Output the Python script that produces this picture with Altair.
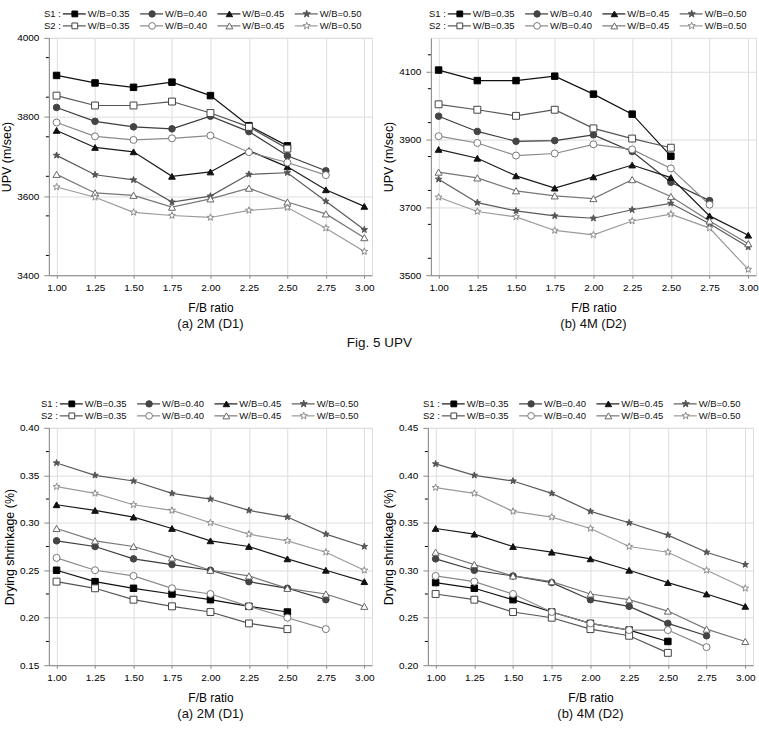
import altair as alt
import pandas as pd

# F/B ratio levels on the x axis
FB = [1.00, 1.25, 1.50, 1.75, 2.00, 2.25, 2.50, 2.75, 3.00]

SERIES = ["S1_035", "S1_040", "S1_045", "S1_050", "S2_035", "S2_040", "S2_045", "S2_050"]
WB_LABELS = ["W/B=0.35", "W/B=0.40", "W/B=0.45", "W/B=0.50"]

# ---- UPV (m/sec), 2M (D1) ----
upv_d1_s1_035 = [3905, 3886, 3875, 3888, 3854, 3778, 3727]
upv_d1_s1_040 = [3824, 3789, 3775, 3770, 3802, 3763, 3702, 3664]
upv_d1_s1_045 = [3766, 3723, 3712, 3650, 3661, 3715, 3674, 3616, 3574]
upv_d1_s1_050 = [3703, 3654, 3641, 3585, 3600, 3655, 3659, 3587, 3515]
upv_d1_s2_035 = [3854, 3829, 3829, 3839, 3810, 3775, 3720]
upv_d1_s2_040 = [3786, 3751, 3742, 3746, 3753, 3711, 3685, 3653]
upv_d1_s2_045 = [3655, 3608, 3602, 3572, 3593, 3620, 3585, 3555, 3495]
upv_d1_s2_050 = [3623, 3597, 3559, 3551, 3546, 3564, 3571, 3519, 3460]

# ---- UPV (m/sec), 4M (D2) ----
upv_d2_s1_035 = [4105, 4074, 4074, 4087, 4034, 3975, 3851]
upv_d2_s1_040 = [3969, 3924, 3895, 3897, 3914, 3865, 3774, 3720]
upv_d2_s1_045 = [3871, 3845, 3793, 3757, 3790, 3825, 3788, 3675, 3618]
upv_d2_s1_050 = [3783, 3714, 3690, 3675, 3668, 3693, 3712, 3652, 3583]
upv_d2_s2_035 = [4004, 3988, 3970, 3988, 3933, 3903, 3876]
upv_d2_s2_040 = [3910, 3890, 3853, 3859, 3886, 3871, 3815, 3708]
upv_d2_s2_045 = [3804, 3787, 3749, 3734, 3726, 3782, 3732, 3660, 3593]
upv_d2_s2_050 = [3730, 3688, 3672, 3632, 3619, 3660, 3680, 3639, 3517]

# ---- Drying shrinkage (%), 2M (D1) ----
shr_d1_s1_035 = [0.250, 0.238, 0.231, 0.225, 0.219, 0.212, 0.206]
shr_d1_s1_040 = [0.281, 0.275, 0.262, 0.256, 0.250, 0.238, 0.231, 0.219]
shr_d1_s1_045 = [0.319, 0.313, 0.306, 0.294, 0.281, 0.275, 0.262, 0.250, 0.238]
shr_d1_s1_050 = [0.363, 0.350, 0.344, 0.331, 0.325, 0.313, 0.306, 0.288, 0.275]
shr_d1_s2_035 = [0.238, 0.231, 0.219, 0.212, 0.206, 0.194, 0.188]
shr_d1_s2_040 = [0.263, 0.250, 0.244, 0.231, 0.225, 0.212, 0.200, 0.188]
shr_d1_s2_045 = [0.294, 0.281, 0.275, 0.263, 0.250, 0.244, 0.231, 0.225, 0.212]
shr_d1_s2_050 = [0.338, 0.331, 0.319, 0.313, 0.300, 0.288, 0.281, 0.269, 0.250]

# ---- Drying shrinkage (%), 4M (D2) ----
shr_d2_s1_035 = [0.287, 0.281, 0.269, 0.256, 0.244, 0.237, 0.225]
shr_d2_s1_040 = [0.312, 0.300, 0.294, 0.287, 0.269, 0.262, 0.244, 0.231]
shr_d2_s1_045 = [0.344, 0.338, 0.325, 0.319, 0.312, 0.300, 0.287, 0.275, 0.262]
shr_d2_s1_050 = [0.412, 0.400, 0.394, 0.381, 0.362, 0.350, 0.337, 0.319, 0.306]
shr_d2_s2_035 = [0.275, 0.269, 0.256, 0.250, 0.238, 0.231, 0.213]
shr_d2_s2_040 = [0.294, 0.288, 0.275, 0.256, 0.244, 0.237, 0.237, 0.219]
shr_d2_s2_045 = [0.319, 0.306, 0.294, 0.288, 0.275, 0.269, 0.257, 0.238, 0.225]
shr_d2_s2_050 = [0.387, 0.381, 0.362, 0.356, 0.344, 0.325, 0.319, 0.300, 0.281]

# ---- series styling ----
STAR = ("M0,-1L0.235,-0.324L0.951,-0.309L0.380,0.124L0.588,0.809L0,0.4"
        "L-0.588,0.809L-0.380,0.124L-0.951,-0.309L-0.235,-0.324Z")
LINE_COLOR = ["#111111", "#3c3c3c", "#1a1a1a", "#5a5a5a", "#555555", "#8a8a8a", "#777777", "#9a9a9a"]
SHAPE = ["square", "circle", "triangle-up", STAR, "square", "circle", "triangle-up", STAR]
FILL = ["#000000", "#444444", "#111111", "#555555", "#ffffff", "#ffffff", "#ffffff", "#ffffff"]
STROKE = ["#000000", "#444444", "#111111", "#555555", "#444444", "#777777", "#666666", "#8c8c8c"]
SIZE = [42, 52, 52, 72, 42, 56, 60, 72]

FONT = "Liberation Sans"


def long_table(*cols):
    rows = []
    for key, vals in zip(SERIES, cols):
        for fb, v in zip(FB, vals):
            rows.append({"fb": fb, "v": v, "s": key})
    return pd.DataFrame(rows)


def legend_layers(lx):
    one = pd.DataFrame({"k": [0]})
    layers = []
    for r, (tag, ly) in enumerate([("S1 :", -24), ("S2 :", -12)]):
        layers.append(
            alt.Chart(one).mark_text(text=tag, align="right", baseline="middle",
                                     font=FONT, fontSize=9.5, color="#111")
            .encode(x=alt.value(lx - 2), y=alt.value(ly))
        )
        for k in range(4):
            i = r * 4 + k
            x0 = lx + 77.5 * k
            layers.append(
                alt.Chart(one).mark_rule(color=LINE_COLOR[i], strokeWidth=1.2)
                .encode(x=alt.value(x0), x2=alt.value(x0 + 23), y=alt.value(ly))
            )
            layers.append(
                alt.Chart(one).mark_point(shape=SHAPE[i], fill=FILL[i], stroke=STROKE[i],
                                          size=SIZE[i] * 0.8, opacity=1, strokeWidth=1)
                .encode(x=alt.value(x0 + 12), y=alt.value(ly))
            )
            layers.append(
                alt.Chart(one).mark_text(text=WB_LABELS[k], align="left", baseline="middle",
                                         font=FONT, fontSize=9.5, color="#111")
                .encode(x=alt.value(x0 + 25), y=alt.value(ly))
            )
    return layers


def panel(df, ytitle, ydom, ystep, fmt, caption, lx, w):
    yticks = []
    v = ydom[0]
    while v <= ydom[1] + 1e-9:
        yticks.append(round(v, 4))
        v += ystep
    yminor = [round(t + ystep / 2, 4) for t in yticks[:-1]]

    x = alt.X("fb:Q", scale=alt.Scale(domain=[0.95, 3.05], nice=False, zero=False),
              axis=alt.Axis(values=FB, format=".2f", title="F/B ratio", tickSize=3,
                            labelPadding=4, titlePadding=10, titleFont=FONT,
                            titleFontSize=12, titleFontWeight="normal",
                            labelOverlap=False))
    y = alt.Y("v:Q", scale=alt.Scale(domain=ydom, nice=False, zero=False),
              axis=alt.Axis(values=yticks, format=fmt, title=ytitle, tickSize=5,
                            labelPadding=5, titlePadding=3, titleFont=FONT,
                            titleFontSize=12.5, titleFontWeight="normal",
                            labelOverlap=False))

    lines = alt.Chart(df).mark_line(strokeWidth=1.2).encode(
        x=x, y=y,
        color=alt.Color("s:N", scale=alt.Scale(domain=SERIES, range=LINE_COLOR), legend=None),
    )
    points = alt.Chart(df).mark_point(opacity=1, strokeWidth=1).encode(
        x="fb:Q", y="v:Q",
        shape=alt.Shape("s:N", scale=alt.Scale(domain=SERIES, range=SHAPE), legend=None),
        fill=alt.Fill("s:N", scale=alt.Scale(domain=SERIES, range=FILL), legend=None),
        stroke=alt.Stroke("s:N", scale=alt.Scale(domain=SERIES, range=STROKE), legend=None),
        size=alt.Size("s:N", scale=alt.Scale(domain=SERIES, range=SIZE), legend=None),
    )
    minor = alt.Chart(pd.DataFrame({"v": yminor})).mark_rule(color="#000", strokeWidth=1).encode(
        y="v:Q", x=alt.value(-3), x2=alt.value(0)
    )
    return alt.layer(lines, points, minor, *legend_layers(lx)).properties(
        width=w, height=238,
        title=alt.TitleParams(caption, orient="bottom", font=FONT, fontSize=13,
                              fontWeight="normal", offset=5, color="#111",
                              anchor="middle"),
    )


df_a = long_table(upv_d1_s1_035, upv_d1_s1_040, upv_d1_s1_045, upv_d1_s1_050,
                  upv_d1_s2_035, upv_d1_s2_040, upv_d1_s2_045, upv_d1_s2_050)
df_b = long_table(upv_d2_s1_035, upv_d2_s1_040, upv_d2_s1_045, upv_d2_s1_050,
                  upv_d2_s2_035, upv_d2_s2_040, upv_d2_s2_045, upv_d2_s2_050)
df_c = long_table(shr_d1_s1_035, shr_d1_s1_040, shr_d1_s1_045, shr_d1_s1_050,
                  shr_d1_s2_035, shr_d1_s2_040, shr_d1_s2_045, shr_d1_s2_050)
df_d = long_table(shr_d2_s1_035, shr_d2_s1_040, shr_d2_s1_045, shr_d2_s1_050,
                  shr_d2_s2_035, shr_d2_s2_040, shr_d2_s2_045, shr_d2_s2_050)

pa = panel(df_a, "UPV (m/sec)", [3400, 4000], 100, "d", "(a) 2M (D1)", 14, 324)
pb = panel(df_b, "UPV (m/sec)", [3500, 4200], 100, "d", "(b) 4M (D2)", 17, 326)
pc = panel(df_c, "Drying shrinkage (%)", [0.15, 0.40], 0.05, ".2f", "(a) 2M (D1)", 11, 324)
pd_ = panel(df_d, "Drying shrinkage (%)", [0.20, 0.45], 0.05, ".2f", "(b) 4M (D2)", 14, 326)

top = alt.hconcat(pa, pb, spacing=7).properties(
    title=alt.TitleParams("Fig. 5 UPV", orient="bottom", font=FONT, fontSize=13.5,
                          fontWeight="normal", offset=4, color="#111", anchor="middle")
)
bottom = alt.hconcat(pc, pd_, spacing=7)

chart = alt.vconcat(top, bottom, spacing=48).properties(
    padding={"left": 0, "top": 6, "right": 0, "bottom": 0}
).configure_view(stroke=None).configure_axis(
    grid=False, domainColor="#000", tickColor="#000", domainWidth=1, tickWidth=1,
    labelFont=FONT, labelFontSize=9, labelColor="#111", titleColor="#111",
).configure(background="white")

chart.save("out.html", embed_options={"renderer": "svg", "actions": False})
